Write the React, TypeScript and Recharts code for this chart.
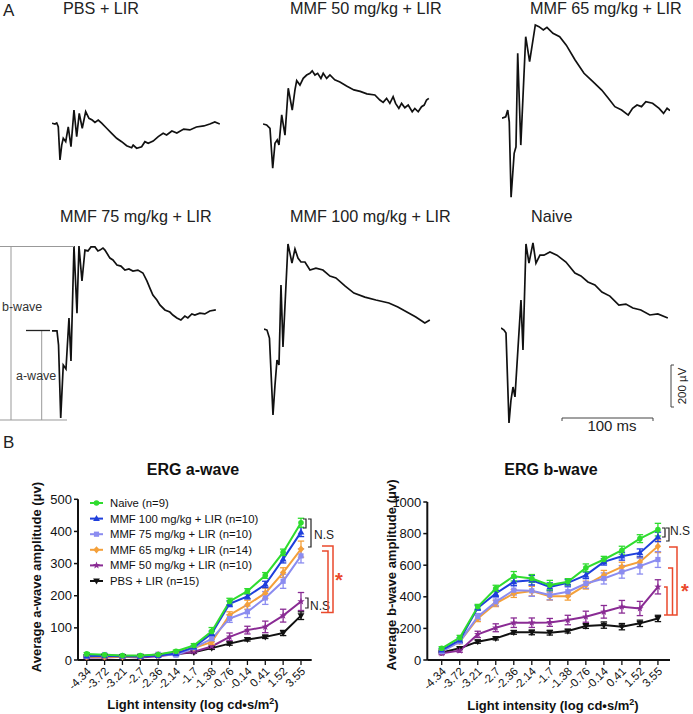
import React from 'react';
import { LineChart, Line, XAxis, YAxis, ErrorBar } from 'recharts';

const FONT = '"Liberation Sans", Arial, Helvetica, sans-serif';

// ---------- Panel A: ERG traces (time in ms, amplitude in µV) ----------
const pbsTrace = [[0,-1],[3.3,-5],[5.2,0],[6.9,-18],[8.8,-176],[10.7,-105],[12.4,-73],[15.1,-89],[17.9,-18],[20.9,-113],[24.2,62],[27.2,-65],[30,46],[33.3,-25],[37.1,54],[40.7,22],[44.3,14],[47.3,3],[50.9,14],[54.7,-1],[60.2,-25],[65.7,-49],[71.2,-73],[76.7,-89],[82.2,-108],[87.7,-118],[89.4,-105],[93.2,-120],[98.7,-113],[102.3,-89],[105.9,-97],[111.4,-86],[117,-65],[122.4,-49],[126.2,-57],[132,-38],[137.5,-48],[145,-29],[151.8,-33],[159,-19],[167.2,-14],[173.8,-5],[179.3,5],[184.8,-5]];
const mmf50Trace = [[0,5],[4,0],[7.7,-16],[10.7,-206],[13.2,-87],[15.7,-71],[17.6,-95],[20.6,48],[24.2,-48],[27.8,175],[32.2,71],[35.2,167],[37.1,211],[40.7,190],[44.3,222],[48.1,238],[51.7,246],[54.2,258],[57.2,238],[60.2,246],[63.8,222],[66.3,246],[70.1,222],[73.7,238],[79,215],[84.7,205],[92,186],[100.1,167],[107,160],[114.4,148],[123.2,143],[128.7,119],[132.3,108],[136.1,127],[139.7,103],[143.3,135],[146,103],[149.6,79],[152.6,103],[156.2,82],[159.9,95],[164.3,63],[167.2,79],[170.9,63],[174.6,87],[177.5,95],[180.1,119],[182.6,127]];
const mmf65Trace = [[0,-1],[4.1,6],[6.3,38],[8,-18],[10,-377],[13.4,-168],[15.4,-137],[17.3,308],[20.7,-129],[26.1,387],[30.4,268],[36.7,443],[40.7,435],[45.5,419],[49.5,432],[56.1,403],[63.5,387],[70.8,347],[80.5,276],[90.3,213],[100.1,173],[109.8,133],[117.1,94],[124.3,54],[131.7,38],[139,14],[143.8,46],[148.7,62],[153.6,54],[158.4,78],[165.8,70],[173,46],[177.9,22],[181.8,46],[185,35]];
const mmf75Trace = [[0,5],[5.5,5],[7.2,-62],[9.6,-409],[12.4,-157],[15.4,-176],[18.7,67],[20.9,-138],[24.2,409],[27.5,90],[29.7,409],[33,243],[36.3,390],[39.6,386],[42.9,405],[47.3,405],[50.6,386],[52.8,390],[56.1,400],[58.3,390],[63.8,352],[67.1,343],[71.5,319],[75.9,314],[80.3,295],[84.7,300],[89.1,290],[94.6,295],[100.1,281],[104.5,243],[107.8,209],[111.1,176],[115.5,152],[118.8,129],[124.3,105],[129.8,95],[133.1,81],[137.5,67],[141.9,57],[146.3,76],[149.6,67],[154,86],[157.3,81],[162.8,90],[168.3,86],[173.8,100],[180.4,105]];
const mmf100Trace = [[0,0],[3.3,-5],[6,-43],[9.9,-409],[12.1,-267],[14.3,-148],[16.5,-171],[18.7,209],[20.9,-86],[26.4,405],[30.8,314],[34.1,381],[37.4,338],[40.7,319],[45.1,319],[50.6,281],[57.2,290],[64.9,281],[72.6,252],[79.2,243],[89.1,205],[99,171],[111.1,152],[123.2,138],[137.5,124],[147.4,105],[157.3,81],[167.2,57],[177.1,29],[182.6,43]];
const naiveTrace = [[0,0],[3.3,-10],[5.5,-24],[8.8,-452],[11,-343],[13.2,-281],[15.4,-328],[22,133],[24.2,-105],[27.5,400],[30.8,309],[35.2,405],[38.5,309],[42.9,347],[47.3,347],[53.9,362],[61.6,347],[71.5,314],[81.4,262],[88,248],[95.7,219],[103.4,205],[111.1,171],[119.9,152],[129.8,109],[137.5,114],[145.2,95],[154,86],[163.9,62],[172.7,67],[183.7,48]];

const traceTitles = ['PBS + LIR', 'MMF 50 mg/kg + LIR', 'MMF 65 mg/kg + LIR', 'MMF 75 mg/kg + LIR', 'MMF 100 mg/kg + LIR', 'Naive'];

// ---------- Panel B: amplitudes ----------
const intensities = ['-4.34', '-3.72', '-3.21', '-2.7', '-2.36', '-2.14', '-1.7', '-1.38', '-0.76', '-0.14', '0.41', '1.52', '3.55'];

const aNaive = [19, 16, 14, 14, 17, 27, 45, 89, 182, 214, 263, 335, 427];
const aNaiveErr = [4, 3, 3, 3, 3, 4, 6, 12, 10, 8, 9, 10, 14];
const aMmf100 = [12, 13, 12, 11, 14, 20, 40, 82, 175, 198, 235, 314, 398];
const aMmf100Err = [3, 3, 3, 3, 3, 4, 5, 8, 9, 8, 10, 12, 14];
const aMmf75 = [12, 17, 13, 12, 18, 15, 38, 66, 129, 150, 193, 245, 324];
const aMmf75Err = [3, 3, 3, 3, 3, 3, 5, 8, 12, 18, 20, 22, 22];
const aMmf65 = [10, 10, 10, 10, 17, 24, 37, 56, 140, 172, 208, 272, 345];
const aMmf65Err = [3, 3, 3, 3, 3, 3, 5, 8, 10, 14, 16, 15, 25];
const aMmf50 = [8, 8, 10, 8, 12, 19, 26, 42, 72, 93, 103, 138, 182];
const aMmf50Err = [3, 3, 3, 3, 3, 3, 4, 6, 12, 12, 18, 20, 28];
const aPbs = [11, 11, 11, 12, 14, 19, 24, 37, 51, 64, 72, 84, 138];
const aPbsErr = [2, 2, 2, 2, 2, 2, 3, 4, 5, 5, 5, 8, 12];

const bNaive = [74, 141, 337, 453, 530, 516, 474, 495, 583, 636, 695, 768, 825];
const bNaiveErr = [10, 15, 15, 20, 30, 25, 30, 20, 25, 20, 25, 25, 40];
const bMmf100 = [63, 126, 330, 421, 495, 505, 463, 488, 537, 621, 657, 678, 779];
const bMmf100Err = [10, 15, 15, 20, 25, 30, 25, 20, 20, 20, 25, 25, 30];
const bMmf75 = [53, 116, 274, 368, 442, 438, 411, 432, 484, 516, 558, 594, 636];
const bMmf75Err = [10, 12, 20, 25, 30, 35, 30, 30, 30, 35, 40, 50, 50];
const bMmf65 = [57, 116, 263, 358, 421, 436, 404, 404, 474, 537, 589, 621, 720];
const bMmf65Err = [10, 12, 20, 20, 25, 30, 25, 25, 25, 30, 30, 30, 40];
const bMmf50 = [42, 59, 162, 204, 236, 236, 238, 253, 274, 305, 337, 326, 463];
const bMmf50Err = [8, 10, 20, 25, 30, 30, 25, 30, 35, 40, 40, 45, 45];
const bPbs = [48, 74, 116, 137, 175, 175, 173, 183, 215, 221, 211, 232, 263];
const bPbsErr = [5, 8, 10, 10, 12, 15, 15, 12, 15, 20, 20, 20, 20];

const seriesKeys = ['pbs', 'mmf50', 'mmf65', 'mmf75', 'mmf100', 'naive'];
const seriesNames = ['PBS + LIR (n=15)', 'MMF 50 mg/kg + LIR (n=10)', 'MMF 65 mg/kg + LIR (n=14)', 'MMF 75 mg/kg + LIR (n=10)', 'MMF 100 mg/kg + LIR (n=10)', 'Naive (n=9)'];
const seriesColors = ['#111111', '#8a2b94', '#f4a03a', '#8b8cf0', '#1f3fdc', '#2fdc2f'];
const seriesShapes = ['down', 'star', 'diamond', 'square', 'up', 'circle'];
const legendOrder = [5, 4, 3, 2, 1, 0];

const aTicks = [0, 100, 200, 300, 400, 500];
const bTicks = [0, 200, 400, 600, 800, 1000];

const aVals = [aPbs, aMmf50, aMmf65, aMmf75, aMmf100, aNaive];
const aErrs = [aPbsErr, aMmf50Err, aMmf65Err, aMmf75Err, aMmf100Err, aNaiveErr];
const bVals = [bPbs, bMmf50, bMmf65, bMmf75, bMmf100, bNaive];
const bErrs = [bPbsErr, bMmf50Err, bMmf65Err, bMmf75Err, bMmf100Err, bNaiveErr];

const buildRows = (vals: number[][], errs: number[][]) =>
  intensities.map((_, i) => {
    const row: any = { i };
    seriesKeys.forEach((k, s) => {
      row[k] = vals[s][i];
      row[k + 'Err'] = errs[s][i];
    });
    return row;
  });

const aRows = buildRows(aVals, aErrs);
const bRows = buildRows(bVals, bErrs);

const markerEl = (shape: string, cx: number, cy: number, color: string, key: string) => {
  switch (shape) {
    case 'circle':
      return <circle key={key} cx={cx} cy={cy} r={2.8} fill={color} />;
    case 'up':
      return <polygon key={key} points={`${cx},${cy - 3.6} ${cx - 3.4},${cy + 2.4} ${cx + 3.4},${cy + 2.4}`} fill={color} />;
    case 'down':
      return <polygon key={key} points={`${cx},${cy + 3.6} ${cx - 3.4},${cy - 2.4} ${cx + 3.4},${cy - 2.4}`} fill={color} />;
    case 'square':
      return <rect key={key} x={cx - 2.6} y={cy - 2.6} width={5.2} height={5.2} fill={color} />;
    case 'diamond':
      return <polygon key={key} points={`${cx},${cy - 3.6} ${cx + 3.2},${cy} ${cx},${cy + 3.6} ${cx - 3.2},${cy}`} fill={color} />;
    default: {
      const pts: string[] = [];
      for (let j = 0; j < 10; j++) {
        const r = j % 2 === 0 ? 3.8 : 1.6;
        const ang = -Math.PI / 2 + (j * Math.PI) / 5;
        pts.push(`${cx + r * Math.cos(ang)},${cy + r * Math.sin(ang)}`);
      }
      return <polygon key={key} points={pts.join(' ')} fill={color} />;
    }
  }
};

const makeDot = (shape: string, color: string) => (p: any) => {
  const { cx, cy, index } = p;
  if (cx == null || cy == null) return <g key={`n${index}`} />;
  return markerEl(shape, cx, cy, color, `${shape}-${index}`);
};

const XTick = (props: any) => {
  const { x, y, payload } = props;
  const ax = x + 5;
  const ay = y + 6;
  return (
    <text x={ax} y={ay} textAnchor="end" fontSize={11.5} fill="#111" fontFamily={FONT} transform={`rotate(-45 ${ax} ${ay})`}>
      {intensities[payload.value]}
    </text>
  );
};

const TraceChart = ({ data, left, baseline }: { data: number[][]; left: number; baseline: number }) => (
  <div style={{ position: 'absolute', left, top: baseline - 105 }}>
    <LineChart width={168} height={210} data={data.map(([t, v]) => ({ t, v }))} margin={{ top: 0, right: 0, bottom: 0, left: 0 }}>
      <XAxis dataKey="t" type="number" domain={[0, 185]} hide />
      <YAxis type="number" domain={[-500, 500]} hide />
      <Line dataKey="v" type="linear" stroke="#111" strokeWidth={1.7} dot={false} isAnimationActive={false} />
    </LineChart>
  </div>
);

const AmpChart = ({ rows, ticks, yMax, left, width, yAxisW, top, right, domainX }: any) => (
  <div style={{ position: 'absolute', left, top: 440 }}>
    <LineChart width={width} height={274} data={rows} margin={{ top, right, bottom: 4, left: 0 }}>
      <XAxis
        dataKey="i"
        type="number"
        domain={domainX}
        ticks={intensities.map((_, i) => i)}
        interval={0}
        tickSize={5}
        tickMargin={1}
        height={50}
        allowDataOverflow
        axisLine={{ stroke: '#111', strokeWidth: 2 }}
        tickLine={{ stroke: '#111', strokeWidth: 1.3 }}
        tick={<XTick />}
      />
      <YAxis
        type="number"
        domain={[0, yMax]}
        ticks={ticks}
        interval={0}
        width={yAxisW}
        tickSize={4}
        tickMargin={2}
        axisLine={{ stroke: '#111', strokeWidth: 2 }}
        tickLine={{ stroke: '#111', strokeWidth: 1.5 }}
        tick={{ fontSize: 13, fill: '#111', fontFamily: FONT }}
      />
      {seriesKeys.map((k, s) => (
        <Line
          key={k}
          dataKey={k}
          type="linear"
          stroke={seriesColors[s]}
          strokeWidth={2}
          dot={makeDot(seriesShapes[s], seriesColors[s])}
          isAnimationActive={false}
        >
          <ErrorBar dataKey={k + 'Err'} direction="y" width={3.2} stroke={seriesColors[s]} strokeWidth={1.3} />
        </Line>
      ))}
    </LineChart>
  </div>
);

const RED = '#ea4a2c';

export default function App() {
  const txt = { fontFamily: FONT, fill: '#222' } as const;
  return (
    <div style={{ position: 'absolute', left: 0, top: 0, width: 693, height: 714, background: '#fff', overflow: 'hidden', fontFamily: FONT }}>
      <TraceChart data={pbsTrace} left={52} baseline={123} />
      <TraceChart data={mmf50Trace} left={263} baseline={125} />
      <TraceChart data={mmf65Trace} left={502} baseline={118} />
      <TraceChart data={mmf75Trace} left={52} baseline={332} />
      <TraceChart data={mmf100Trace} left={264} baseline={329} />
      <TraceChart data={naiveTrace} left={501} baseline={328} />

      <AmpChart rows={aRows} ticks={aTicks} yMax={500} left={0} width={350} yAxisW={78} top={59.3} right={38.3} domainX={[-0.49, 12.6]} />
      <AmpChart rows={bRows} ticks={bTicks} yMax={1000} left={340} width={353} yAxisW={87.3} top={62} right={23} domainX={[-0.8, 12.67]} />

      <svg width={693} height={714} style={{ position: 'absolute', left: 0, top: 0, pointerEvents: 'none' }}>
        {/* Panel labels */}
        <text x={3} y={16} fontSize={17} {...txt}>A</text>
        <text x={3} y={448} fontSize={17} {...txt}>B</text>

        {/* Trace titles */}
        <text x={63} y={14} fontSize={16.2} {...txt}>{traceTitles[0]}</text>
        <text x={290} y={14} fontSize={16.2} {...txt}>{traceTitles[1]}</text>
        <text x={530} y={14} fontSize={16.2} {...txt}>{traceTitles[2]}</text>
        <text x={60} y={222} fontSize={16.2} {...txt}>{traceTitles[3]}</text>
        <text x={290} y={222} fontSize={16.2} {...txt}>{traceTitles[4]}</text>
        <text x={531} y={222} fontSize={16.2} {...txt}>{traceTitles[5]}</text>

        {/* a-wave / b-wave measurement guide */}
        <g stroke="#999" strokeWidth={1} fill="none">
          <line x1={0} y1={246.5} x2={74} y2={246.5} />
          <line x1={11} y1={246.5} x2={11} y2={420} />
          <line x1={0} y1={420} x2={67} y2={420} />
          <line x1={41.7} y1={330.5} x2={41.7} y2={420} />
        </g>
        <line x1={26} y1={330.5} x2={50} y2={330.5} stroke="#222" strokeWidth={1.3} />
        <text x={2} y={311} fontSize={12.5} {...txt} fill="#333">b-wave</text>
        <text x={16} y={380} fontSize={12.5} {...txt} fill="#333">a-wave</text>

        {/* scale bars */}
        <g stroke="#444" strokeWidth={1} fill="none">
          <polyline points="674,365 671,365 671,407 674,407" />
          <polyline points="562,421 562,418 653,418 653,421" />
        </g>
        <text x={0} y={0} fontSize={11.5} {...txt} textAnchor="middle" transform="translate(686 386) rotate(-90)">200 µV</text>
        <text x={612} y={431} fontSize={15} {...txt} textAnchor="middle">100 ms</text>

        {/* Chart titles */}
        <text x={193} y={475} fontSize={16} fontWeight="bold" textAnchor="middle" fontFamily={FONT} fill="#111">ERG a-wave</text>
        <text x={551} y={475} fontSize={16} fontWeight="bold" textAnchor="middle" fontFamily={FONT} fill="#111">ERG b-wave</text>

        {/* Axis titles */}
        <text x={193} y={709} fontSize={13} fontWeight="bold" textAnchor="middle" fontFamily={FONT} fill="#111">
          Light intensity (log cd•s/m<tspan dy={-5} fontSize={9}>2</tspan><tspan dy={5}>)</tspan>
        </text>
        <text x={553} y={710} fontSize={13} fontWeight="bold" textAnchor="middle" fontFamily={FONT} fill="#111">
          Light intensity (log cd•s/m<tspan dy={-5} fontSize={9}>2</tspan><tspan dy={5}>)</tspan>
        </text>
        <text x={0} y={0} fontSize={13} fontWeight="bold" textAnchor="middle" fontFamily={FONT} fill="#111" transform="translate(41 577) rotate(-90)">
          Average a-wave amplitude (μv)
        </text>
        <text x={0} y={0} fontSize={13} fontWeight="bold" textAnchor="middle" fontFamily={FONT} fill="#111" transform="translate(396 575) rotate(-90)">
          Average b-wave amplitude (μv)
        </text>

        {/* Legend */}
        {legendOrder.map((s, r) => {
          const y = 503 + r * 15.6;
          return (
            <g key={`lg${s}`}>
              <line x1={90} y1={y} x2={103} y2={y} stroke={seriesColors[s]} strokeWidth={2} />
              {markerEl(seriesShapes[s], 96.5, y, seriesColors[s], `lm${s}`)}
              <text x={110} y={y + 4} fontSize={11.3} fontFamily={FONT} fill="#111">{seriesNames[s]}</text>
            </g>
          );
        })}

        {/* a-wave significance brackets */}
        <g stroke="#222" strokeWidth={1.2} fill="none">
          <polyline points="303,519 306,519 306,528 303,528" />
          <polyline points="308,519 311,519 311,547 308,547" />
          <polyline points="305,598 308,598 308,608 305,608" />
        </g>
        <text x={314} y={539} fontSize={12} fontFamily={FONT} fill="#222">N.S</text>
        <text x={310} y={610} fontSize={12} fontFamily={FONT} fill="#222">N.S</text>
        <g stroke={RED} strokeWidth={1.5} fill="none">
          <polyline points="322,546 333,546 333,612.5 321,612.5" />
          <polyline points="322,551 328,551 328,612.5" />
        </g>
        <text x={339} y={587} fontSize={20} fontWeight="bold" textAnchor="middle" fontFamily={FONT} fill={RED}>*</text>

        {/* b-wave significance brackets */}
        <g stroke="#222" strokeWidth={1.2} fill="none">
          <polyline points="662,528 665,528 665,537 662,537" />
          <polyline points="666,528 669,528 669,541 666,541" />
        </g>
        <text x={670} y={535} fontSize={12} fontFamily={FONT} fill="#222">N.S</text>
        <g stroke={RED} strokeWidth={1.5} fill="none">
          <polyline points="669,547 677,547 677,615 664,615" />
          <polyline points="668,568 672.5,568 672.5,615" />
          <polyline points="664,587 667,587 667,615" />
        </g>
        <text x={685} y={598} fontSize={20} fontWeight="bold" textAnchor="middle" fontFamily={FONT} fill={RED}>*</text>
      </svg>
    </div>
  );
}
